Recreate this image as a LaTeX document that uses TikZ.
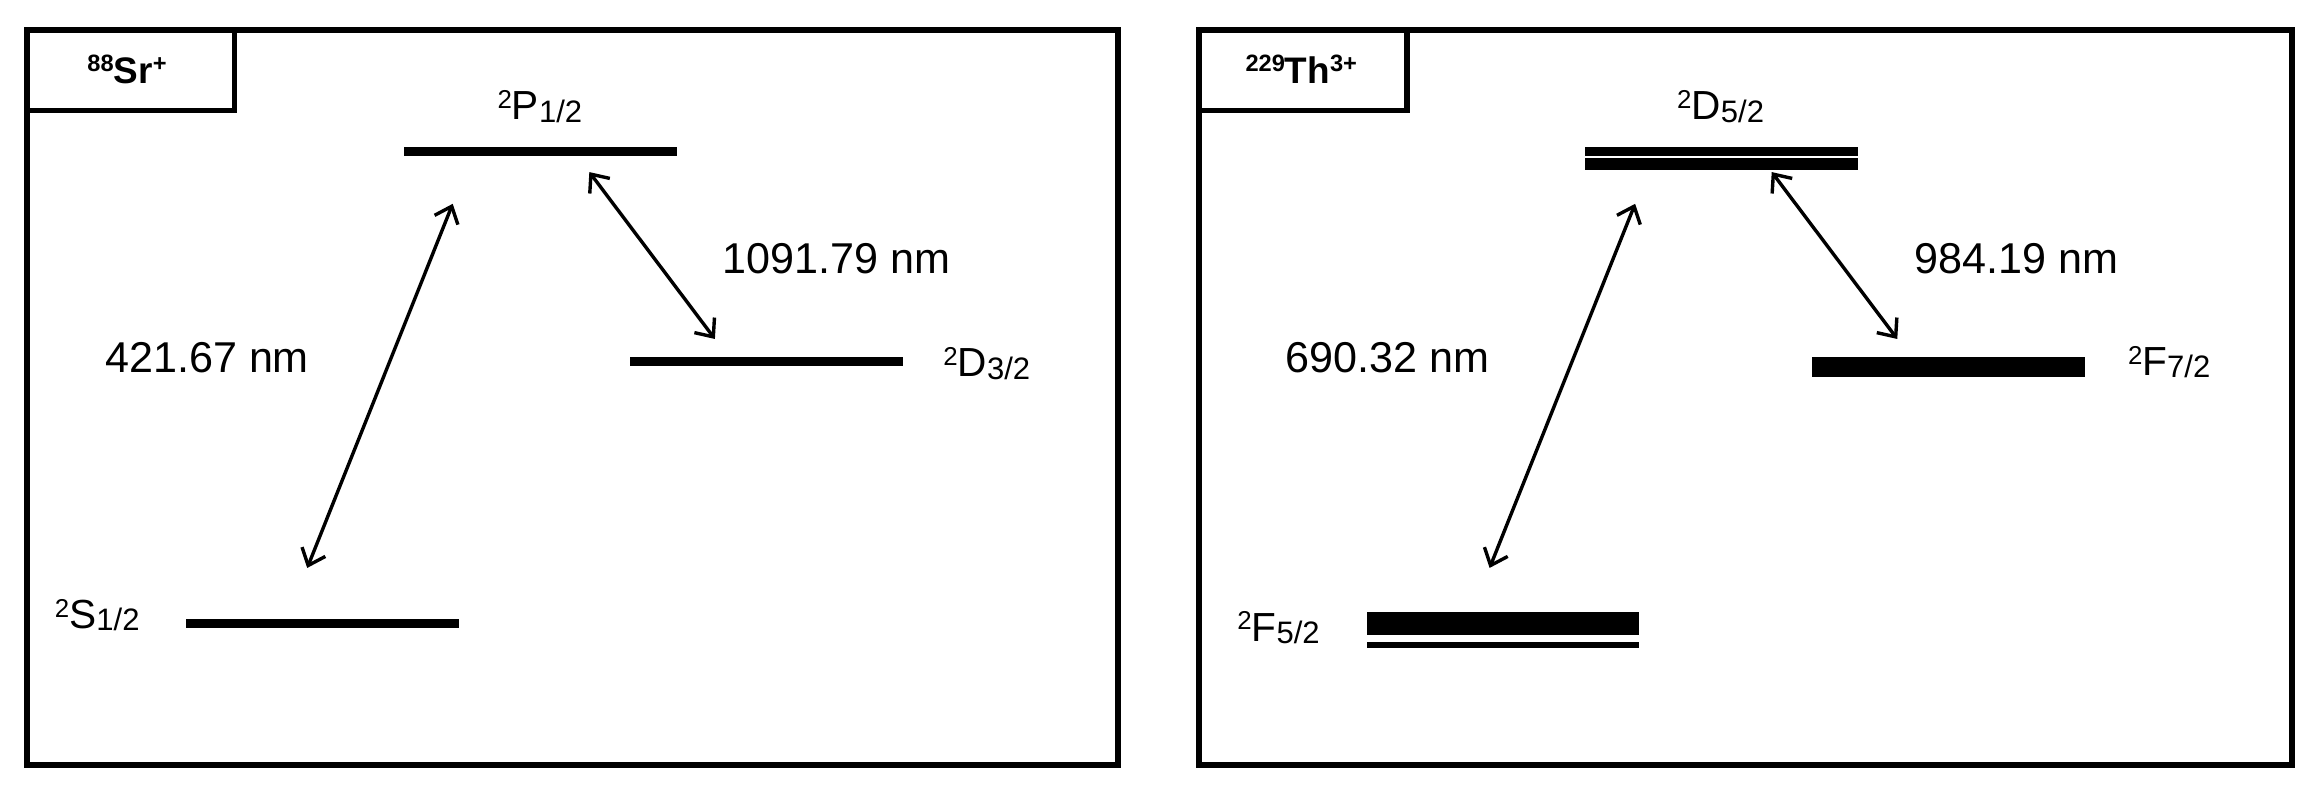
\documentclass[tikz,border=0pt]{standalone}
\usepackage{fontspec}
\setmainfont{Liberation Sans}
\usetikzlibrary{arrows.meta}
\newcommand\lvlab[3]{\fontsize{27.5}{27.5}\selectfont\raisebox{7.5pt}{\fontsize{17.5}{17.5}\selectfont #1}#2\raisebox{-1.8pt}{\fontsize{21}{21}\selectfont #3}}
\newcommand\ionlab[3]{\fontsize{25}{25}\selectfont\bfseries\raisebox{8pt}{\fontsize{16}{16}\selectfont #1}#2\raisebox{8pt}{\fontsize{16}{16}\selectfont #3}}
\tikzset{
  panel/.style={draw, line width=3.7pt},
  tagbox/.style={draw, line width=3.7pt},
  level/.style={fill=black, inner sep=0pt, minimum width=184.7pt, minimum height=#1},
  level/.default=6pt,
  trans/.style={line width=2.3pt, {Straight Barb[length=10pt,width=17pt]}-{Straight Barb[length=10pt,width=17pt]}},
  wl/.style={anchor=base west, inner sep=0pt, font=\fontsize{29.2}{29.2}\selectfont},
  lab/.style={inner sep=0pt}
}
\begin{document}
\begin{tikzpicture}[x=1pt,y=-1pt]
\useasboundingbox (0,0) rectangle (1568,540);
% ---------- left panel ----------
\draw[panel] (18.3,20.3) rectangle (757,518);
\draw[tagbox] (18.3,20.3) rectangle (158.8,74.8);
\node[lab, anchor=base] (srlab) at (86,56.5) {\ionlab{88}{Sr}{+}};
\node[level] (P12) at (365.9,102.8) {};
\node[level] (D32) at (519,245) {};
\node[level] (S12) at (218.2,422) {};
\node[lab, anchor=base] (P12t) at (365.5,80.8) {\lvlab{2}{P}{1/2}};
\node[lab, anchor=base west] (D32t) at (638.5,255) {\lvlab{2}{D}{3/2}};
\node[lab, anchor=base west] (S12t) at (37,425.4) {\lvlab{2}{S}{1/2}};
\coordinate (a1u) at (306.5,138);
\coordinate (a1d) at (208,384.5);
\coordinate (a2u) at (399,116.5);
\coordinate (a2d) at (484,229.5);
\draw[trans] (a1u) -- (a1d);
\draw[trans] (a2u) -- (a2d);
\node[wl] (w1) at (71,252) {421.67 nm};
\node[wl] (w2) at (489,185) {1091.79 nm};
% ---------- right panel ----------
\draw[panel] (811.8,20.3) rectangle (1551.6,518);
\draw[tagbox] (811.8,20.3) rectangle (952.6,74.8);
\node[lab, anchor=base] (thlab) at (881,56.5) {\ionlab{229}{Th}{3+}};
\node[level=6.1pt] (D52a) at (1165.4,102.55) {};
\node[level=7.9pt] (D52b) at (1165.4,111.15) {};
\node[level=13.5pt] (F72) at (1319.2,248.25) {};
\node[level=15.7pt] (F52a) at (1017.6,422.15) {};
\node[level=4.6pt] (F52b) at (1017.6,436.7) {};
\node[lab, anchor=base] (D52t) at (1164.9,81.2) {\lvlab{2}{D}{5/2}};
\node[lab, anchor=base west] (F72t) at (1440.5,254) {\lvlab{2}{F}{7/2}};
\node[lab, anchor=base west] (F52t) at (837.5,434) {\lvlab{2}{F}{5/2}};
\coordinate (b1u) at (1107,138);
\coordinate (b1d) at (1008.5,384.5);
\coordinate (b2u) at (1199.5,116.5);
\coordinate (b2d) at (1284.5,229.5);
\draw[trans] (b1u) -- (b1d);
\draw[trans] (b2u) -- (b2d);
\node[wl] (w3) at (870,252) {690.32 nm};
\node[wl] (w4) at (1296,185) {984.19 nm};
\end{tikzpicture}
\end{document}
